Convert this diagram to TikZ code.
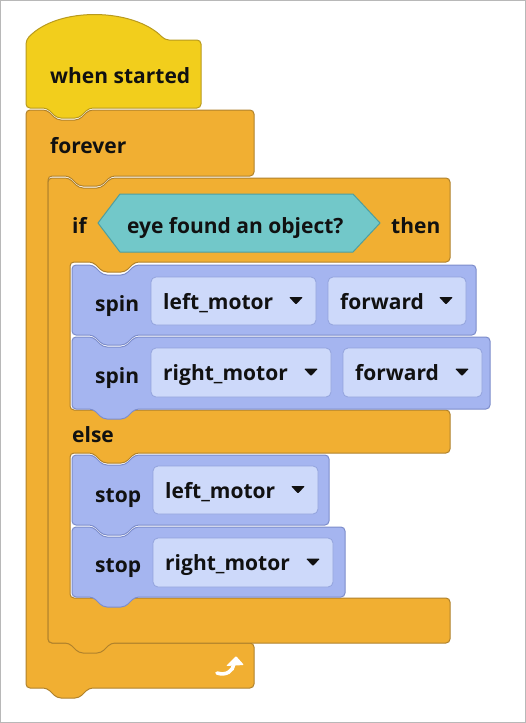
\documentclass[tikz,border=0pt]{standalone}
\usepackage{fontspec}
\setmainfont{Open Sans}
\definecolor{hatY}{HTML}{F2CE1C}
\definecolor{hatYd}{HTML}{B89A1E}
\definecolor{ctrlO}{HTML}{F1AF32}
\definecolor{ctrlOd}{HTML}{B0822C}
\definecolor{motB}{HTML}{A5B5F0}
\definecolor{motBd}{HTML}{7D8DCB}
\definecolor{fldB}{HTML}{CDD9FA}
\definecolor{fldBd}{HTML}{93A3DC}
\definecolor{senT}{HTML}{72C8C9}
\definecolor{senTd}{HTML}{4F9E9E}
\definecolor{txt}{HTML}{111111}
\newcommand\stackblk[5]{% style, L, T, R, B
  \draw[#1] (#2,#3) -- ({#2+21},#3) -- ({#2+31},{#3+10}) -- ({#2+53},{#3+10}) -- ({#2+63},#3) -- (#4,#3) -- (#4,#5)
    -- ({#2+63},#5) -- ({#2+53},{#5+10}) -- ({#2+31},{#5+10}) -- ({#2+21},#5) -- (#2,#5) -- cycle;}
\newcommand\fieldbox[6]{% name, L, T, R, B, text
  \draw[fieldst] (#2,#3) rectangle (#4,#5);
  \node[lbl] (#1) at ({#2+12},{(#3+#5)/2+8}) {#6};
  \fill[txt, rounded corners=1pt] ({#4-27},{(#3+#5)/2-4}) -- ({#4-13},{(#3+#5)/2-4}) -- ({#4-20},{(#3+#5)/2+3.5}) -- cycle;}
\begin{document}
\begin{tikzpicture}[x=1pt,y=-1pt,
  lbl/.style={anchor=base west, inner sep=0pt, text=txt, font=\fontsize{21}{25}\selectfont\bfseries},
  hatst/.style={fill=hatY, draw=hatYd, line width=1pt, rounded corners=4pt},
  ctrlst/.style={fill=ctrlO, draw=ctrlOd, line width=1pt, rounded corners=4pt},
  motst/.style={fill=motB, draw=motBd, line width=1pt, rounded corners=4pt},
  fieldst/.style={fill=fldB, draw=fldBd, line width=0.8pt, rounded corners=5pt},
  sensst/.style={fill=senT, draw=senTd, line width=1pt}]
\useasboundingbox (0,0) rectangle (526,723);
\fill[white] (0,0) rectangle (526,723);
\draw[black!28, line width=1pt] (0.5,0.5) rectangle (525.5,722.5);

% hat block
\draw[hatst] (26,108) -- (26,40) .. controls (58,6) and (134,8) .. (165,40) -- (201,40) -- (201,108)
  -- (89,108) -- (79,118) -- (57,118) -- (47,108) -- cycle;
\node[lbl] (whenstarted) at (50,83) {when started};

% forever block
\draw[ctrlst] (26,110) -- (47,110) -- (57,120) -- (79,120) -- (89,110) -- (254,110) -- (254,176)
  -- (111,176) -- (101,186) -- (79,186) -- (69,176) -- (48,176) -- (48,643) -- (254,643) -- (254,688)
  -- (89,688) -- (79,698) -- (57,698) -- (47,688) -- (26,688) -- cycle;
\node[lbl] (forever) at (50,153) {forever};
% loop arrow icon
\draw[white, line width=3.6pt, line cap=round] (217,673) .. controls (226,676) and (233,671) .. (234,664);
\fill[white, rounded corners=1pt] (226,666) -- (236,656) -- (244,665) -- cycle;

% if-else block
\draw[ctrlst] (48,178) -- (69,178) -- (79,188) -- (101,188) -- (111,178) -- (450,178) -- (450,262)
  -- (135,262) -- (125,272) -- (103,272) -- (93,262) -- (70,262) -- (70,410) -- (450,410) -- (450,453)
  -- (135,453) -- (125,463) -- (103,463) -- (93,453) -- (70,453) -- (70,598) -- (450,598) -- (450,643)
  -- (111,643) -- (101,653) -- (79,653) -- (69,643) -- (48,643) -- cycle;
\node[lbl] (if) at (72,233) {if};
\node[lbl] (then) at (391,233) {then};
\node[lbl] (else) at (72,442) {else};
\draw[sensst] (98,223) -- (120,194) -- (353,194) -- (380,223) -- (353,252) -- (120,252) -- cycle;
\node[lbl] (eye) at (127,233) {eye found an object?};

% spin blocks
\stackblk{motst}{72}{265}{476}{335}
\node[lbl] (spinA) at (95,311) {spin};
\fieldbox{lmA}{151}{277}{316}{325}{left\_motor}
\fieldbox{fwA}{328}{277}{466}{325}{forward}
\stackblk{motst}{72}{337}{490}{409}
\node[lbl] (spinB) at (95,383) {spin};
\fieldbox{rmB}{151}{348}{331}{397}{right\_motor}
\fieldbox{fwB}{343}{348}{482}{397}{forward}

% stop blocks
\stackblk{motst}{72}{455}{329}{525}
\node[lbl] (stopA) at (95,502) {stop};
\fieldbox{lmC}{153}{466}{318}{514}{left\_motor}
\stackblk{motst}{72}{527}{345}{597}
\node[lbl] (stopB) at (95,572) {stop};
\fieldbox{rmD}{153}{538}{333}{587}{right\_motor}
\end{tikzpicture}
\end{document}
